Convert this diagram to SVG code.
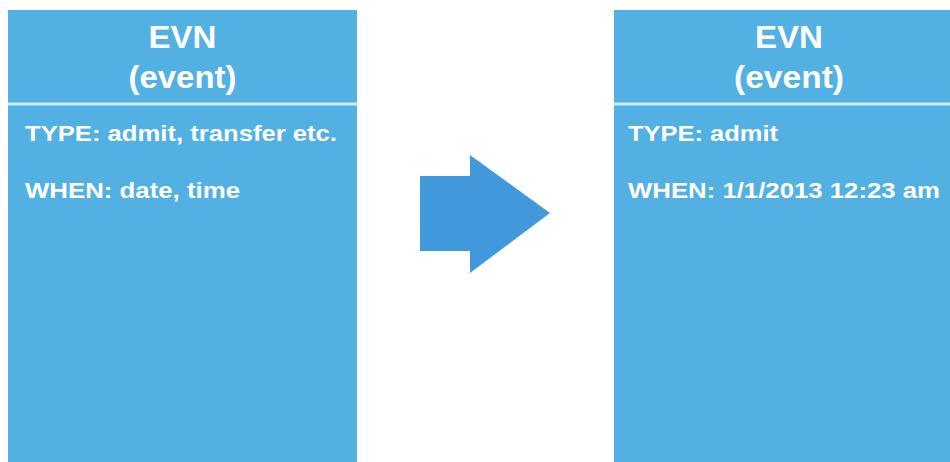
<svg xmlns="http://www.w3.org/2000/svg" width="950" height="462" viewBox="0 0 950 462">
<style>
.box{fill:#53B0E3}
.sep{stroke:#D2EEF3;stroke-width:3}
.title{font-family:"Liberation Sans",Arial,sans-serif;font-weight:bold;font-size:31px;fill:#fff;text-anchor:middle}
.body{font-family:"Liberation Sans",Arial,sans-serif;font-weight:bold;font-size:22px;fill:#fff}
</style>
<rect width="950" height="462" fill="#fff"/>
<g id="left-node">
<rect class="box" x="8" y="10" width="349" height="452"/>
<line class="sep" x1="8" y1="104" x2="357" y2="104"/>
<text class="title" x="182.5" y="48" textLength="68" lengthAdjust="spacingAndGlyphs">EVN</text>
<text class="title" x="182.5" y="88" textLength="108" lengthAdjust="spacingAndGlyphs">(event)</text>
<text class="body" x="25" y="141" textLength="312" lengthAdjust="spacingAndGlyphs">TYPE: admit, transfer etc.</text>
<text class="body" x="25" y="198" textLength="215" lengthAdjust="spacingAndGlyphs">WHEN: date, time</text>
</g>
<g id="right-node">
<rect class="box" x="614" y="10" width="349" height="452"/>
<line class="sep" x1="614" y1="104" x2="963" y2="104"/>
<text class="title" x="789" y="48" textLength="68" lengthAdjust="spacingAndGlyphs">EVN</text>
<text class="title" x="789" y="88" textLength="110" lengthAdjust="spacingAndGlyphs">(event)</text>
<text class="body" x="628" y="141" textLength="150" lengthAdjust="spacingAndGlyphs">TYPE: admit</text>
<text class="body" x="628" y="198" textLength="312" lengthAdjust="spacingAndGlyphs">WHEN: 1/1/2013 12:23 am</text>
</g>
<g id="connectors">
<polygon fill="#4199DB" points="420,176 470,176 470,155 550,213 470,273 470,251 420,251"/>
</g>
</svg>
